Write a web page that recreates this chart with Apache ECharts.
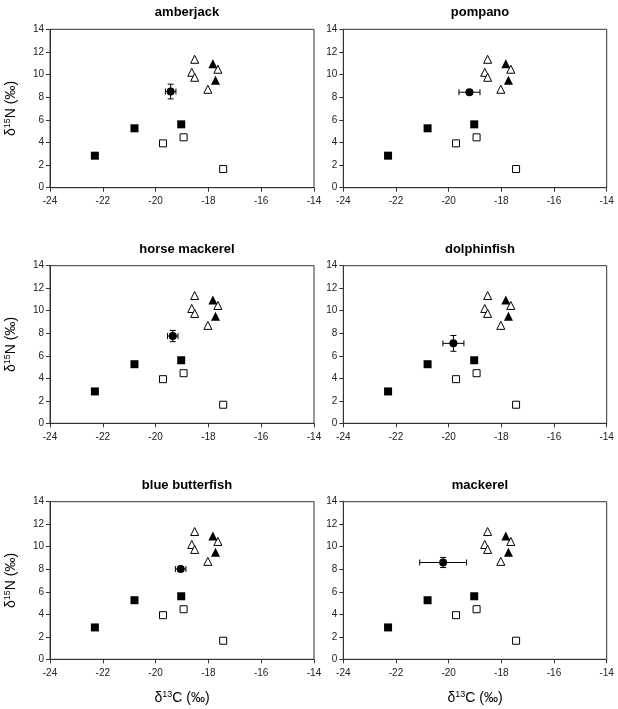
<!DOCTYPE html>
<html><head><meta charset="utf-8">
<script src="https://cdn.jsdelivr.net/npm/echarts@6/dist/echarts.min.js"></script>
<style>html,body{margin:0;padding:0;background:#fff}#c{width:618px;height:709px}</style>
</head><body><div id="c"></div>
<script>
// Panel titles (focal species)
const panelNames = ['amberjack','pompano','horse mackerel','dolphinfish','blue butterfish','mackerel'];
// Reference sources (same in every panel): [d13C, d15N]
const filledSquares = [[-22.3,2.83],[-20.8,5.25],[-19.03,5.6]];
const openSquares = [[-19.72,3.92],[-18.94,4.45],[-17.44,1.65]];
const openTriangles = [[-18.52,11.35],[-18.63,10.2],[-18.52,9.76],[-18.02,8.7],[-17.64,10.47]];
const filledTriangles = [[-17.83,10.95],[-17.73,9.5]];
// Focal species mean values and SD
const focalX = [-19.43,-19.21,-19.35,-19.82,-19.05,-20.21];
const focalY = [8.5,8.44,7.75,7.1,8.02,8.6];
const focalSdX = [0.2,0.4,0.2,0.4,0.2,0.89];
const focalSdY = [0.65,0.2,0.5,0.7,0.2,0.45];
// Axis ticks
const xTicks = [-24,-22,-20,-18,-16,-14];
const yTicks = [0,2,4,6,8,10,12,14];

const FONT = 'Liberation Sans, Arial, sans-serif';
const lefts = [50,343.3];
const widths = [264,263.4];
const tops = [29.3,265.7,501.7];
const heights = [158.4,157.6,157.6];

const grids=[],xAxes=[],yAxes=[],series=[],titles=[];
const richName = {
  a:{fontSize:14,fontFamily:FONT,color:'#000'},
  s:{fontSize:9,fontFamily:FONT,color:'#000',padding:[0,0,7,0]}
};
panelNames.forEach((name,i)=>{
  const col=i%2,row=Math.floor(i/2);
  grids.push({left:lefts[col],top:tops[row],width:widths[col],height:heights[row],show:true,borderColor:'#333',borderWidth:1,containLabel:false});
  titles.push({text:name,left:lefts[col]+widths[col]/2,top:tops[row]-28,textAlign:'center',textStyle:{fontFamily:FONT,fontSize:13,fontWeight:'bold',color:'#000'}});
  xAxes.push({type:'value',gridIndex:i,min:xTicks[0],max:xTicks[xTicks.length-1],interval:2,
    axisLine:{show:true,onZero:false,lineStyle:{color:'#333'}},
    axisTick:{show:true,inside:false,length:4,lineStyle:{color:'#333'}},
    axisLabel:{fontFamily:FONT,fontSize:10,color:'#222',margin:9},
    splitLine:{show:false},
    name: row===2?'{a|δ}{s|13}{a|C (‰)}':'',
    nameLocation:'middle',nameGap:31,nameTextStyle:{rich:richName}
  });
  yAxes.push({type:'value',gridIndex:i,min:yTicks[0],max:yTicks[yTicks.length-1],interval:2,
    axisLine:{show:true,onZero:false,lineStyle:{color:'#333'}},
    axisTick:{show:true,inside:false,length:4,lineStyle:{color:'#333'}},
    axisLabel:{fontFamily:FONT,fontSize:10,color:'#222',margin:6},
    splitLine:{show:false},
    name: col===0?'{a|δ}{s|15}{a|N (‰)}':'',
    nameLocation:'middle',nameGap:31,nameRotate:90,nameTextStyle:{rich:richName}
  });
  const base={type:'scatter',xAxisIndex:i,yAxisIndex:i,silent:true,animation:false};
  series.push(Object.assign({},base,{data:filledSquares,symbol:'rect',symbolSize:8,itemStyle:{color:'#000',opacity:1}}));
  series.push(Object.assign({},base,{data:openSquares,symbol:'rect',symbolSize:7,itemStyle:{color:'#fff',borderColor:'#000',borderWidth:1,opacity:1}}));
  series.push(Object.assign({},base,{data:openTriangles,symbol:'triangle',symbolSize:8,itemStyle:{color:'#fff',borderColor:'#000',borderWidth:1,opacity:1}}));
  series.push(Object.assign({},base,{data:filledTriangles,symbol:'triangle',symbolSize:9,itemStyle:{color:'#000',opacity:1}}));
  series.push({type:'custom',xAxisIndex:i,yAxisIndex:i,silent:true,animation:false,z:3,
    data:[[focalX[i],focalY[i],focalSdX[i],focalSdY[i]]],
    renderItem:function(params,api){
      const x=api.value(0),y=api.value(1),sx=api.value(2),sy=api.value(3);
      const l=api.coord([x-sx,y]),r=api.coord([x+sx,y]),t=api.coord([x,y+sy]),b=api.coord([x,y-sy]);
      const cap=3,st={stroke:'#000',lineWidth:1};
      return {type:'group',children:[
        {type:'line',shape:{x1:l[0],y1:l[1],x2:r[0],y2:r[1]},style:st},
        {type:'line',shape:{x1:l[0],y1:l[1]-cap,x2:l[0],y2:l[1]+cap},style:st},
        {type:'line',shape:{x1:r[0],y1:r[1]-cap,x2:r[0],y2:r[1]+cap},style:st},
        {type:'line',shape:{x1:t[0],y1:t[1],x2:b[0],y2:b[1]},style:st},
        {type:'line',shape:{x1:t[0]-cap,y1:t[1],x2:t[0]+cap,y2:t[1]},style:st},
        {type:'line',shape:{x1:b[0]-cap,y1:b[1],x2:b[0]+cap,y2:b[1]},style:st}
      ]};
    }
  });
  series.push(Object.assign({},base,{data:[[focalX[i],focalY[i]]],symbol:'circle',symbolSize:8,itemStyle:{color:'#000',opacity:1},z:4}));
});
const chart=echarts.init(document.getElementById('c'),null,{renderer:'canvas'});
chart.setOption({animation:false,backgroundColor:'#fff',title:titles,grid:grids,xAxis:xAxes,yAxis:yAxes,series:series});
</script></body></html>
